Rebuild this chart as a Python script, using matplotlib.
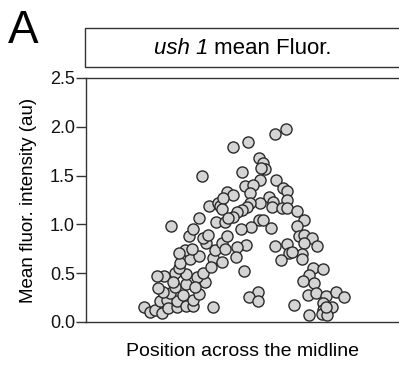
import matplotlib
matplotlib.use("Agg")
import numpy as np
import matplotlib.pyplot as plt
from matplotlib.patches import Rectangle

# ============================================================
# Data (position in arbitrary units, mean fluorescence in au)
# ============================================================
position = [
    58, 64, 69, 76, 74, 81, 82, 91, 91, 100, 107, 107, 97, 113, 84, 77, 89, 72,
    100, 119, 111, 117, 100, 89, 93, 78, 71, 94, 104, 113, 99, 93, 106, 127,
    136, 125, 129, 120, 136, 117, 122, 103, 107, 85, 113, 130, 139, 116, 123,
    132, 134, 141, 127, 87, 109,
    200, 189, 162, 147, 173, 177, 179, 175, 156, 174, 190, 159, 167, 197, 201,
    147, 137, 164, 183, 201, 174, 164, 187, 186, 196, 201, 161, 156, 211, 136,
    151, 147, 173, 177, 218, 165, 155, 185, 211, 141, 213, 218, 226, 160, 151,
    189, 201, 218, 231, 203, 216, 150, 195, 158, 227, 237, 223, 217, 228, 172,
    163, 172, 222, 230, 240, 250, 258, 237, 246, 208, 237, 223, 236, 241, 240,
    139, 142, 206, 216,
]
intensity = [
    0.15, 0.10, 0.12, 0.09, 0.22, 0.23, 0.14, 0.15, 0.22, 0.16, 0.16, 0.23,
    0.28, 0.29, 0.30, 0.31, 0.36, 0.35, 0.39, 0.41, 0.46, 0.50, 0.49, 0.50,
    0.55, 0.47, 0.47, 0.60, 0.65, 0.68, 0.74, 0.71, 0.75, 0.66, 0.61, 0.56,
    0.74, 0.81, 0.81, 0.86, 0.89, 0.88, 0.95, 0.98, 1.07, 1.02, 1.02, 1.50,
    1.19, 1.22, 1.19, 1.33, 0.15, 0.41, 0.36,
    1.98, 1.93, 1.84, 1.79, 1.68, 1.63, 1.57, 1.58, 1.54, 1.45, 1.45, 1.39,
    1.40, 1.37, 1.34, 1.30, 1.27, 1.32, 1.28, 1.25, 1.22, 1.22, 1.23, 1.18,
    1.17, 1.17, 1.18, 1.15, 1.14, 1.16, 1.13, 1.08, 1.05, 1.04, 1.04, 0.97,
    0.95, 0.96, 0.98, 0.88, 0.88, 0.89, 0.86, 0.79, 0.77, 0.78, 0.80, 0.81,
    0.78, 0.71, 0.70, 0.67, 0.64, 0.52, 0.55, 0.54, 0.48, 0.42, 0.40, 0.31,
    0.26, 0.22, 0.28, 0.30, 0.27, 0.31, 0.26, 0.19, 0.15, 0.17, 0.12, 0.07,
    0.08, 0.07, 0.15, 0.75, 1.07, 0.72, 0.65,
]

y_ticks = [0.0, 0.5, 1.0, 1.5, 2.0, 2.5]

# ============================================================
# Style
# ============================================================
plt.rcParams["font.family"] = ["Liberation Sans", "DejaVu Sans"]

SPINE = "#333333"

fig = plt.figure(figsize=(3.99, 3.67), dpi=100)
ax = fig.add_axes([86 / 399, 1 - 322 / 367, 1 - 86 / 399, 244 / 367])

ax.scatter(position, intensity, s=64, facecolor="#d4d4d4",
           edgecolor="#2a2a2a", linewidths=1.0, zorder=3, clip_on=False)

ax.set_xlim(0, 313)
ax.set_ylim(0, 2.5)
ax.set_yticks(y_ticks)
ax.set_yticklabels([f"{t:.1f}" for t in y_ticks])
ax.set_xticks([])
ax.tick_params(axis="y", direction="out", length=7, width=1.0, color=SPINE,
               labelsize=13, pad=1, labelcolor="#111111")

for side in ["left", "bottom", "top"]:
    ax.spines[side].set_color(SPINE)
    ax.spines[side].set_linewidth(1.0)
ax.spines["right"].set_visible(False)

ax.set_ylabel("Mean fluor. intensity (au)", fontsize=13.5, labelpad=9)
ax.set_xlabel("Position across the midline", fontsize=14, labelpad=15)

# title strip
box = Rectangle((85 / 399, 1 - 67 / 367), 0.8, 39 / 367,
                transform=fig.transFigure, facecolor="white",
                edgecolor=SPINE, linewidth=1.0, clip_on=False)
fig.patches.append(box)

# italic gene name + regular rest, centred together
t_cy = 1 - 48 / 367
t_cx = 243 / 399
t1 = fig.text(0, t_cy, "ush 1", style="italic", fontsize=16,
              ha="left", va="center")
t2 = fig.text(0, t_cy, " mean Fluor.", fontsize=16, ha="left", va="center")
renderer = fig.canvas.get_renderer()
w1 = t1.get_window_extent(renderer).width / fig.bbox.width
w2 = t2.get_window_extent(renderer).width / fig.bbox.width
x0 = t_cx - (w1 + w2) / 2
t1.set_x(x0)
t2.set_x(x0 + w1)

# panel label
fig.text(8 / 399, 1 - 43 / 367, "A", fontsize=33, ha="left", va="baseline")

fig.savefig("out.png", dpi=100)
